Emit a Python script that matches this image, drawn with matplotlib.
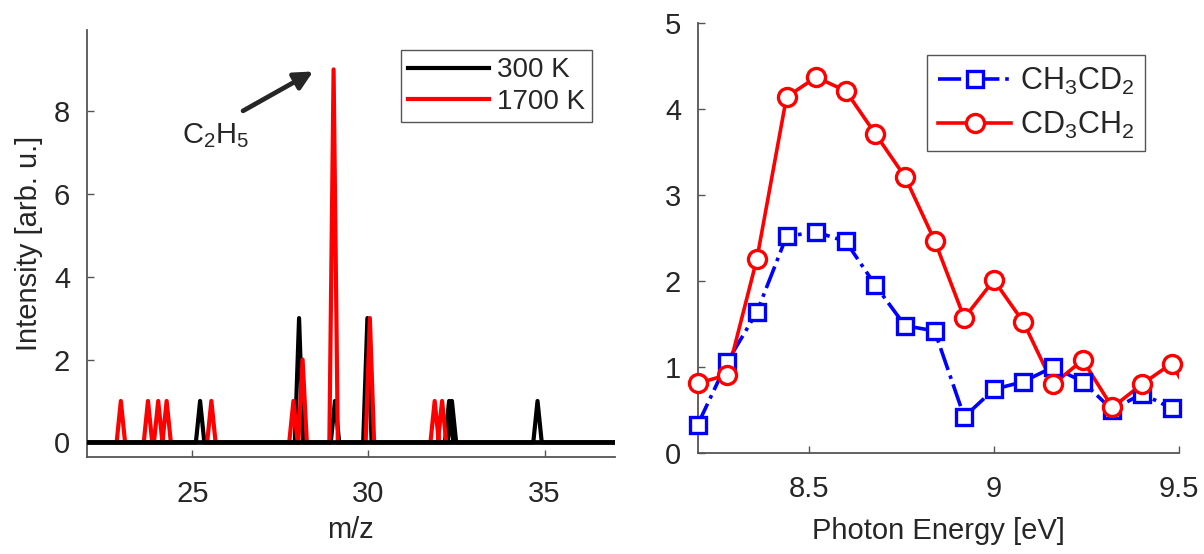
import numpy as np
import matplotlib
matplotlib.use("Agg")
import matplotlib.pyplot as plt

plt.rcParams['font.family'] = ['Liberation Sans', 'DejaVu Sans']
plt.rcParams['mathtext.fontset'] = 'custom'
plt.rcParams['mathtext.rm'] = 'Liberation Sans'
plt.rcParams['mathtext.it'] = 'Liberation Sans'

# mass spectra: peak positions (m/z) and heights
peaks_300 = [25.22, 28.03, 29.05, 29.97, 32.29, 32.37, 34.80]
heights_300 = [1, 3, 1, 3, 1, 1, 1]
peaks_1700 = [22.97, 23.74, 24.03, 24.27, 25.54, 27.87, 28.13, 29.01, 30.04, 31.88, 32.09]
heights_1700 = [1, 1, 1, 1, 1, 1, 2, 9, 3, 1, 1]

# photoionization spectra
energy = [8.20, 8.28, 8.36, 8.44, 8.52, 8.60, 8.68, 8.76, 8.84,
          8.92, 9.00, 9.08, 9.16, 9.24, 9.32, 9.40, 9.48]
ch3cd2 = [0.33, 1.06, 1.64, 2.52, 2.57, 2.46, 1.95, 1.48, 1.42,
          0.42, 0.74, 0.83, 1.00, 0.83, 0.50, 0.69, 0.52]
cd3ch2 = [0.81, 0.91, 2.26, 4.14, 4.37, 4.21, 3.71, 3.21, 2.47,
          1.57, 2.01, 1.52, 0.80, 1.08, 0.53, 0.80, 1.04]
# next point beyond the axis limit (only the line enters the view)
energy_next = 9.56
cd3ch2_next = 0.45

hw = 0.12  # half width of a peak


def peak_trace(centers, heights, x0=None, x1=None, gaps=False):
    xs, ys = [], []
    if x0 is not None:
        xs.append(x0)
        ys.append(0)
    for c, h in sorted(zip(centers, heights)):
        xs += [c - hw, c, c + hw]
        ys += [0, h, 0]
        if gaps:
            xs.append(np.nan)
            ys.append(np.nan)
    if x1 is not None:
        xs.append(x1)
        ys.append(0)
    return xs, ys


txt = '#262626'
spine = '#555555'

fig = plt.figure(figsize=(12.04, 5.54), dpi=100)
ax1 = fig.add_axes([0.072, 0.1745, 0.4388, 0.7713])
ax2 = fig.add_axes([0.5795, 0.1823, 0.3997, 0.7762])

# ---- left: mass spectra
bx, by = peak_trace(peaks_300, heights_300, 22, 37)
rx, ry = peak_trace(peaks_1700, heights_1700, gaps=True)
l300, = ax1.plot(bx, by, color='k', lw=3.0, zorder=2)
l1700, = ax1.plot(rx, ry, color='red', lw=3.0, zorder=3)
ax1.plot([22, 37], [0, 0], color='k', lw=3.4, zorder=4)

ax1.set_xlim(22, 37)
ax1.set_ylim(-0.36, 9.95)
ax1.set_xticks([25, 30, 35])
ax1.set_yticks([0, 2, 4, 6, 8])
ax1.set_xlabel('m/z', fontsize=21, color=txt, labelpad=6)
ax1.set_ylabel('Intensity [arb. u.]', fontsize=21, color=txt, labelpad=8)
leg1 = ax1.legend([l300, l1700], ['300 K', '1700 K'], loc='upper right',
                  bbox_to_anchor=(0.983, 0.985), fontsize=20, handlelength=2.9,
                  handletextpad=0.3, borderpad=0.25, labelspacing=0.2,
                  fancybox=False, framealpha=1, edgecolor=spine)
for t in leg1.get_texts():
    t.set_color(txt)
ax1.annotate('', xy=(28.43, 8.95), xytext=(26.44, 8.0),
             arrowprops=dict(arrowstyle='-|>,head_length=1.1,head_width=0.55',
                             color=txt, lw=3.4, shrinkA=0, shrinkB=0))
ax1.text(25.67, 7.4, r'C$_2$H$_5$', fontsize=21, color=txt, ha='center', va='center')

# ---- right: photoionization spectra
ax2.plot(energy, ch3cd2, color='blue', ls='-.', lw=2.6, zorder=2)
ax2.plot(energy + [energy_next], cd3ch2 + [cd3ch2_next], color='red', lw=2.6, zorder=3)
ax2.plot(energy, ch3cd2, ls='none', marker='s', ms=11, mec='blue', mfc='white',
         mew=2.4, clip_on=False, zorder=4)
ax2.plot(energy, cd3ch2, ls='none', marker='o', ms=13, mec='red', mfc='white',
         mew=2.4, clip_on=False, zorder=5)
h1, = ax2.plot([], [], color='blue', ls='-.', lw=2.6, marker='s', ms=11,
               mec='blue', mfc='white', mew=2.4)
h2, = ax2.plot([], [], color='red', lw=2.6, marker='o', ms=13,
               mec='red', mfc='white', mew=2.4)
ax2.set_xlim(8.2, 9.5)
ax2.set_ylim(0, 5)
ax2.set_xticks([8.5, 9, 9.5])
ax2.set_xticklabels(['8.5', '9', '9.5'])
ax2.set_yticks([0, 1, 2, 3, 4, 5])
ax2.set_xlabel('Photon Energy [eV]', fontsize=21, color=txt, labelpad=10)
leg2 = ax2.legend([h1, h2], [r'CH$_3$CD$_2$', r'CD$_3$CH$_2$'], loc='upper right',
                  bbox_to_anchor=(0.962, 0.96), fontsize=22, handlelength=2.4,
                  handletextpad=0.3, borderpad=0.35, labelspacing=0.4,
                  fancybox=False, framealpha=1, edgecolor=spine)
for t in leg2.get_texts():
    t.set_color(txt)

for ax in (ax1, ax2):
    ax.spines['top'].set_visible(False)
    ax.spines['right'].set_visible(False)
    for s in ('left', 'bottom'):
        ax.spines[s].set_color(spine)
        ax.spines[s].set_linewidth(1.3)
    ax.tick_params(direction='in', length=5, width=1, color=spine,
                   labelsize=21, labelcolor=txt)
    ax.tick_params(axis='x', pad=16)
    ax.tick_params(axis='y', pad=12)

fig.savefig('out.png', dpi=100)
